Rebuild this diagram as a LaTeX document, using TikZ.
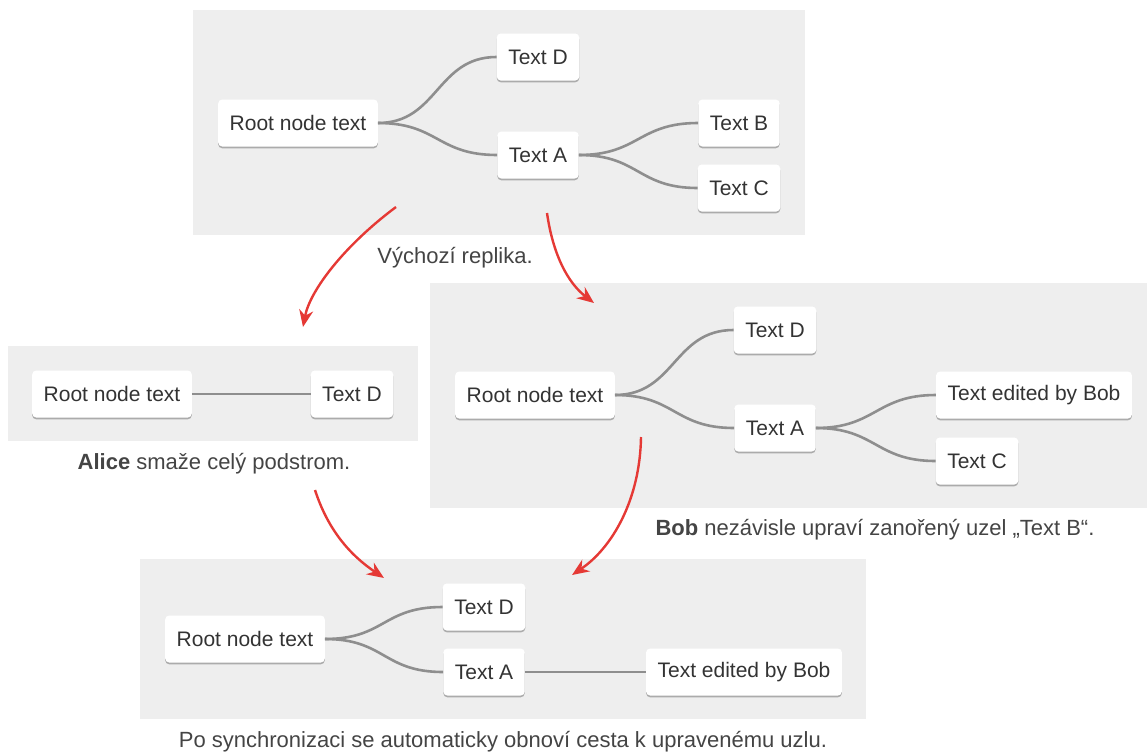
\documentclass[tikz,border=0pt]{standalone}
\usepackage{fontspec}
\setmainfont{Liberation Sans}
\usetikzlibrary{shadows,arrows.meta}
\definecolor{panelgray}{HTML}{EEEEEE}
\definecolor{linkgray}{HTML}{8E8E8E}
\definecolor{arrowred}{HTML}{E53935}
\definecolor{txt}{HTML}{333333}
\definecolor{captxt}{HTML}{444444}
\tikzset{
  mm/.style={draw=none, fill=white, rounded corners=4pt, minimum height=47pt,
    inner xsep=11.5pt, text=txt, font=\fontsize{21}{24}\selectfont,
    drop shadow={shadow xshift=0pt, shadow yshift=-1.8pt, opacity=0.28, fill=black}},
  link/.style={draw=linkgray, line width=2.6pt},
  panel/.style={fill=panelgray, draw=none},
  captext/.style={text=captxt, font=\fontsize{22}{26}\selectfont},
  flow/.style={draw=arrowred, line width=2.4pt, -{Stealth[length=17pt,width=14pt]}},
}
\begin{document}
\begin{tikzpicture}[x=1pt,y=-1pt]
\useasboundingbox (0,0) rectangle (1147,753);
% panels
\fill[panel] (193,10) rectangle (805,235);
\fill[panel] (8,346) rectangle (418,441);
\fill[panel] (430,283) rectangle (1147,508);
\fill[panel] (140,559) rectangle (866,719);

% panel 1
\coordinate (r1) at (298,123);
\coordinate (d1) at (538,57);
\coordinate (a1) at (538,155);
\coordinate (b1) at (739,123);
\coordinate (c1) at (739,188);
\node[captext] (cap1) at (455,258) {Výchozí replika.};

% panel 2
\coordinate (r2) at (112,394);
\coordinate (d2) at (352,394);
\node[captext] (cap2) at (214,464) {\textbf{Alice} smaže celý podstrom.};

% panel 3
\coordinate (r3) at (535,395);
\coordinate (d3) at (775,330);
\coordinate (a3) at (775,428);
\coordinate (b3) at (1034,395);
\coordinate (c3) at (977,461);
\node[captext] (cap3) at (875,530) {\textbf{Bob} nezávisle upraví zanořený uzel „Text B“.};

% panel 4
\coordinate (r4) at (245,639);
\coordinate (d4) at (484,607);
\coordinate (a4) at (484,672);
\coordinate (b4) at (744,672);
\node[captext] (cap4) at (503,742) {Po synchronizaci se automaticky obnoví cesta k upravenému uzlu.};

% nodes
\node[mm] (R1) at (r1) {Root node text};
\node[mm] (D1) at (d1) {Text D};
\node[mm] (A1) at (a1) {Text A};
\node[mm] (B1) at (b1) {Text B};
\node[mm] (C1) at (c1) {Text C};
\node[mm] (R2) at (r2) {Root node text};
\node[mm] (D2) at (d2) {Text D};
\node[mm] (R3) at (r3) {Root node text};
\node[mm] (D3) at (d3) {Text D};
\node[mm] (A3) at (a3) {Text A};
\node[mm] (B3) at (b3) {Text edited by Bob};
\node[mm] (C3) at (c3) {Text C};
\node[mm] (R4) at (r4) {Root node text};
\node[mm] (D4) at (d4) {Text D};
\node[mm] (A4) at (a4) {Text A};
\node[mm] (B4) at (b4) {Text edited by Bob};

% links
\draw[link] (R1.east) .. controls +(60,0) and +(-60,0) .. (D1.west);
\draw[link] (R1.east) .. controls +(60,0) and +(-60,0) .. (A1.west);
\draw[link] (A1.east) .. controls +(60,0) and +(-60,0) .. (B1.west);
\draw[link] (A1.east) .. controls +(60,0) and +(-60,0) .. (C1.west);

\draw[link] (R2.east) -- (D2.west);

\draw[link] (R3.east) .. controls +(60,0) and +(-60,0) .. (D3.west);
\draw[link] (R3.east) .. controls +(60,0) and +(-60,0) .. (A3.west);
\draw[link] (A3.east) .. controls +(60,0) and +(-60,0) .. (B3.west);
\draw[link] (A3.east) .. controls +(60,0) and +(-60,0) .. (C3.west);

\draw[link] (R4.east) .. controls +(60,0) and +(-60,0) .. (D4.west);
\draw[link] (R4.east) .. controls +(60,0) and +(-60,0) .. (A4.west);
\draw[link] (A4.east) -- (B4.west);

% flow arrows
\coordinate (s1) at (396,207);
\coordinate (e1) at (303,327);
\coordinate (s2) at (547,213);
\coordinate (e2) at (594,303);
\coordinate (s3) at (315,490);
\coordinate (e3) at (384,578);
\coordinate (s4) at (641,437);
\coordinate (e4) at (572,575);
\draw[flow] (s1) .. controls (345,245) and (310,290) .. (e1);
\draw[flow] (s2) .. controls (553,255) and (568,283) .. (e2);
\draw[flow] (s3) .. controls (328,530) and (350,555) .. (e3);
\draw[flow] (s4) .. controls (640,500) and (612,548) .. (e4);
\end{tikzpicture}
\end{document}
